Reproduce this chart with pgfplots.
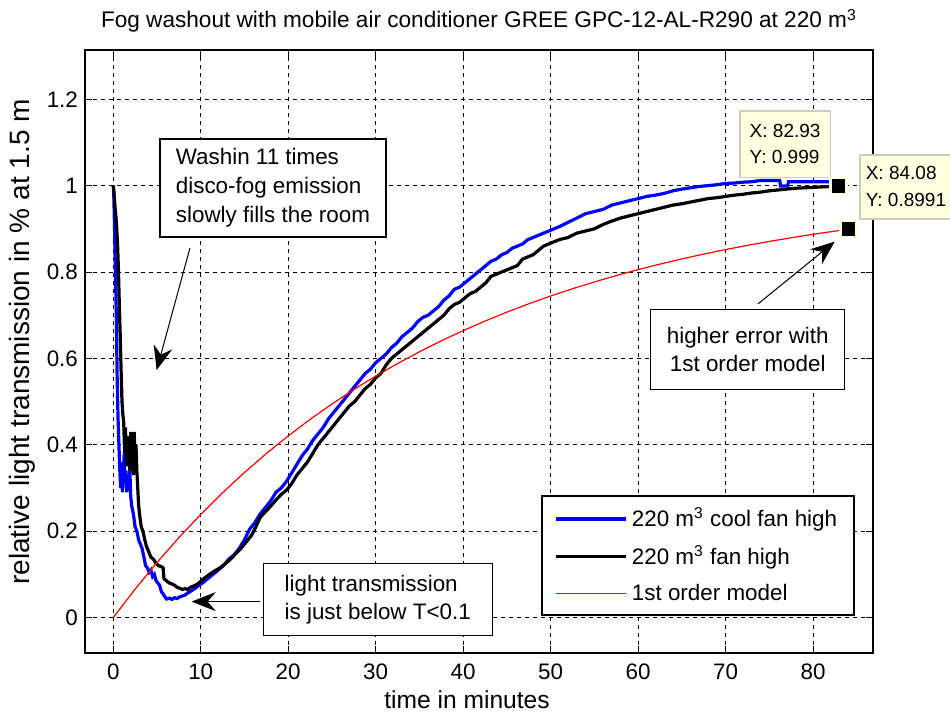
\documentclass[border=0pt]{standalone}
\usepackage{fontspec}
\setmainfont{Liberation Sans}
\usepackage{pgfplots}
\pgfplotsset{compat=1.18}
\usetikzlibrary{arrows.meta}
\definecolor{tipfill}{RGB}{255,255,225}
\definecolor{tipedge}{RGB}{205,205,185}
\begin{document}
\begin{tikzpicture}[font=\fontsize{11.2}{14}\selectfont]
\begin{axis}[
  name=ax,
  scale only axis, width=394pt, height=301.5pt,
  xmin=-3.23, xmax=86.86, ymin=-0.082, ymax=1.314,
  xtick={0,10,20,30,40,50,60,70,80},
  ytick={0,0.2,0.4,0.6,0.8,1,1.2},
  /pgf/number format/assume math mode=true,
  tick label style={font=\fontsize{11.2}{14}\selectfont},
  xticklabel style={anchor=base, yshift=-13pt},
  grid=major,
  major grid style={black, line width=0.5pt, dash pattern=on 2pt off 2pt},
  axis line style={line width=1pt},
  tick align=inside, major tick length=3.5pt,
  tick style={black, line width=0.5pt},
  clip=false,
  title={Fog washout with mobile air conditioner GREE GPC-12-AL-R290 at 220 m\textsuperscript{3}},
  title style={at={(axis description cs:0.5,1)}, anchor=base, yshift=5pt, inner sep=0pt, font=\fontsize{11.3}{14}\selectfont},
  xlabel={time in minutes},
  xlabel style={at={(axis description cs:0.4848,0)}, anchor=base, yshift=-27.5pt, inner sep=0pt, font=\fontsize{12.3}{14}\selectfont},
  ylabel={relative light transmission in \% at 1.5 m},
  ylabel style={at={(axis description cs:-0.0698,0.5158)}, anchor=base, inner sep=0pt, font=\fontsize{14}{16}\selectfont},
  legend style={at={(0.9772,0.0614)}, anchor=south east, draw=black, line width=0.9pt,
     inner xsep=6.5pt, inner ysep=4pt, row sep=4pt, font=\fontsize{11.2}{14}\selectfont},
  legend cell align=left,
  legend image code/.code={\draw[#1] (0pt,0pt) -- (35pt,0pt);},
]
\addplot[blue, line width=1.6pt] coordinates {
(0,1.0) (0.05,0.99) (0.15,0.9) (0.25,0.8) (0.35,0.7) (0.45,0.55) (0.55,0.46)
(0.65,0.40) (0.75,0.34) (0.85,0.30) (0.95,0.36) (1.05,0.29) (1.15,0.33) (1.25,0.38)
(1.35,0.31) (1.45,0.34) (1.55,0.29) (1.65,0.33) (1.75,0.30) (1.9,0.34) (2.0,0.28)
(2.1,0.26) (2.3,0.24) (2.5,0.21) (2.7,0.20) (2.9,0.18) (3.1,0.17) (3.3,0.16)
(3.5,0.14) (3.7,0.12) (3.9,0.115) (4.1,0.105) (4.3,0.11) (4.5,0.095) (4.7,0.10)
(4.9,0.085) (5.1,0.08) (5.3,0.075) (5.5,0.06) (5.7,0.055) (5.9,0.048) (6.1,0.043)
(6.4,0.045) (6.7,0.042) (7.0,0.046) (7.3,0.044) (7.6,0.048) (7.9,0.05) (8.2,0.052)
(8.6,0.058) (9.0,0.063) (9.4,0.068) (9.8,0.075) (10.2,0.08) (10.8,0.09) (11.4,0.10)
(12.0,0.11) (12.6,0.12) (13.2,0.135) (13.8,0.145) (14.4,0.16) (15.0,0.18) (15.6,0.205)
(16.2,0.22) (16.8,0.24) (17.4,0.255) (18.0,0.27) (18.6,0.29) (19.2,0.30) (19.8,0.315)
(20.4,0.335) (21.0,0.355) (21.6,0.375) (22.2,0.39) (22.8,0.41) (23.4,0.425) (24.0,0.44)
(24.6,0.46) (25.2,0.475) (25.8,0.49) (26.4,0.505) (27.0,0.52) (27.6,0.535) (28.2,0.55)
(28.8,0.565) (29.4,0.575) (30.0,0.59) (30.6,0.60) (31.2,0.61) (31.8,0.625) (32.4,0.635)
(33.0,0.65) (33.6,0.66) (34.2,0.67) (34.8,0.685) (35.4,0.695) (36.0,0.70) (36.6,0.71)
(37.2,0.72) (37.8,0.735) (38.4,0.745) (39.0,0.76) (39.6,0.765) (40.2,0.775) (40.8,0.785)
(41.4,0.795) (42.0,0.805) (42.6,0.815) (43.2,0.825) (43.8,0.83) (44.4,0.84) (45.0,0.845)
(45.6,0.855) (46.2,0.86) (46.8,0.865) (47.4,0.875) (48.0,0.88) (48.6,0.885) (49.2,0.89)
(49.8,0.895) (50.4,0.90) (51.0,0.905) (52.0,0.915) (53.0,0.925) (54.0,0.935) (55.0,0.94)
(56.0,0.945) (57.0,0.955) (58.0,0.96) (59.0,0.965) (60.0,0.97) (61.0,0.975) (62.0,0.978)
(63.0,0.982) (64.0,0.988) (65.0,0.992) (66.0,0.995) (67.0,0.998) (68.0,1.0) (69.0,1.002)
(70.0,1.005) (71.0,1.006) (72.0,1.008) (73.0,1.009) (74.0,1.012) (76.2,1.012)
(76.3,0.999) (77.1,0.999) (77.2,1.009) (81.9,1.009) (82.93,0.999)
};
\addlegendentry{220 m\textsuperscript{3} cool fan high}
\addplot[black, line width=1.6pt] coordinates {
(0,1.0) (0.1,0.98) (0.2,0.95) (0.3,0.93) (0.4,0.90) (0.5,0.86) (0.6,0.80) (0.7,0.72)
(0.8,0.65) (0.9,0.57) (1.0,0.50) (1.1,0.47) (1.2,0.45) (1.3,0.38) (1.4,0.44) (1.5,0.35)
(1.6,0.40) (1.7,0.36) (1.8,0.42) (1.9,0.34) (2.0,0.43) (2.1,0.36) (2.2,0.42) (2.3,0.33)
(2.4,0.43) (2.5,0.35) (2.6,0.40) (2.7,0.34) (2.8,0.30) (2.9,0.26) (3.0,0.24) (3.2,0.21)
(3.4,0.20) (3.6,0.18) (3.8,0.165) (4.0,0.155) (4.3,0.14) (4.6,0.135) (4.9,0.125)
(5.2,0.12) (5.5,0.118) (5.7,0.115) (5.8,0.09) (6.1,0.085) (6.4,0.08) (6.7,0.078)
(7.0,0.075) (7.3,0.07) (7.6,0.068) (7.9,0.065) (8.2,0.067) (8.5,0.065) (8.8,0.07)
(9.1,0.072) (9.4,0.075) (9.8,0.08) (10.2,0.088) (10.6,0.094) (11.0,0.10) (11.6,0.108)
(12.2,0.115) (12.8,0.125) (13.4,0.135) (14.0,0.148) (14.6,0.16) (15.2,0.175) (15.8,0.19)
(16.3,0.21) (16.8,0.232) (17.4,0.245) (18.0,0.258) (18.6,0.272) (19.2,0.285) (19.8,0.295)
(20.4,0.31) (21.0,0.33) (21.6,0.345) (22.2,0.36) (22.8,0.38) (23.4,0.40) (24.0,0.415)
(24.6,0.43) (25.2,0.445) (25.8,0.46) (26.4,0.475) (27.0,0.49) (27.6,0.50) (28.2,0.515)
(28.8,0.53) (29.4,0.54) (30.0,0.555) (30.6,0.565) (31.2,0.585) (31.8,0.60) (32.4,0.61)
(33.0,0.62) (33.6,0.63) (34.2,0.64) (34.8,0.65) (35.4,0.66) (36.0,0.67) (36.6,0.68)
(37.2,0.69) (37.8,0.70) (38.4,0.715) (39.0,0.725) (39.6,0.73) (40.2,0.74) (40.8,0.75)
(41.4,0.755) (42.0,0.765) (42.6,0.775) (43.2,0.79) (43.8,0.795) (44.4,0.80) (45.0,0.805)
(45.6,0.81) (46.2,0.815) (46.8,0.83) (47.4,0.835) (48.0,0.84) (48.6,0.85) (49.2,0.86)
(49.8,0.865) (50.4,0.87) (51.0,0.875) (52.0,0.88) (53.0,0.89) (54.0,0.895) (55.0,0.90)
(56.0,0.91) (57.0,0.918) (58.0,0.925) (59.0,0.93) (60.0,0.935) (61.0,0.94) (62.0,0.945)
(63.0,0.95) (64.0,0.955) (65.0,0.958) (66.0,0.962) (67.0,0.966) (68.0,0.97) (69.0,0.972)
(70.0,0.975) (71.0,0.978) (72.0,0.98) (73.0,0.983) (74.0,0.985) (75.0,0.988) (76.0,0.99)
(77.0,0.992) (78.0,0.994) (79.0,0.995) (80.0,0.996) (81.0,0.997) (82.0,0.998) (82.93,0.999)
};
\addlegendentry{220 m\textsuperscript{3} fan high}
\addplot[red, line width=0.6pt] coordinates {
(0,0) (2.5,0.0659) (5,0.1275) (7.5,0.1851) (10,0.2388) (12.5,0.2890) (15,0.3359)
(17.5,0.3797) (20,0.4206) (22.5,0.4588) (25,0.4944) (27.5,0.5278) (30,0.5589)
(32.5,0.5880) (35,0.6152) (37.5,0.6406) (40,0.6643) (42.5,0.6864) (45,0.7071)
(47.5,0.7264) (50,0.7444) (52.5,0.7613) (55,0.7770) (57.5,0.7917) (60,0.8055)
(62.5,0.8183) (65,0.8303) (67.5,0.8415) (70,0.8519) (72.5,0.8617) (75,0.8708)
(77.5,0.8793) (80,0.8873) (82.5,0.8947) (84.08,0.8991)
};
\addlegendentry{1st order model}
\addplot[only marks, mark=square*, mark size=4pt, mark options={fill=black, draw=tipfill, line width=1.2pt}, forget plot]
  coordinates {(82.93,0.999) (84.08,0.8991)};
% annotations
\node[draw=black, fill=white, line width=0.6pt, minimum width=113pt, minimum height=49pt,
  align=left, font=\fontsize{11.2}{14.5}\selectfont] at (axis cs:18.26,0.9947)
  {Washin 11 times\\disco-fog emission\\slowly fills the room};
\draw[line width=0.5pt, -{Stealth[length=12pt,width=9.5pt,inset=4pt]}]
  (axis cs:8.77,0.8556) -- (axis cs:4.96,0.5729);
\node[draw=black, fill=white, line width=0.6pt, minimum width=114.6pt, minimum height=36.2pt,
  align=left, font=\fontsize{11.2}{14}\selectfont] at (axis cs:30.24,0.0421)
  {light transmission\\is just below T<0.1};
\draw[line width=0.5pt, -{Stealth[length=12pt,width=9.5pt,inset=4pt]}]
  (axis cs:16.77,0.037) -- (axis cs:8.96,0.037);
\node[draw=black, fill=white, line width=0.6pt, minimum width=97pt, minimum height=40.3pt,
  align=center, font=\fontsize{11.2}{14}\selectfont] at (axis cs:72.54,0.6204)
  {higher error with\\1st order model};
\draw[line width=0.5pt, -{Stealth[length=12pt,width=9.5pt,inset=4pt]}]
  (axis cs:73.71,0.7262) -- (axis cs:82.48,0.8704);
% data tips
\node[draw=tipedge, fill=tipfill, line width=0.8pt, anchor=north west, minimum width=45.3pt,
  minimum height=33.3pt, align=left, font=\fontsize{9.5}{13.3}\selectfont]
  at (axis cs:71.54,1.1752) {X: 82.93\\Y: 0.999};
\node[draw=tipedge, fill=tipfill, line width=0.8pt, anchor=north west, minimum width=43.5pt,
  minimum height=32pt, inner xsep=3pt, align=left, font=\fontsize{9.5}{13.3}\selectfont]
  at (axis cs:85.26,1.0734) {X: 84.08\\Y: 0.8991};
\end{axis}
\pgfresetboundingbox
\path[use as bounding box] ([xshift=-42.5pt,yshift=-30pt]ax.south west) rectangle ([xshift=38.5pt,yshift=25pt]ax.north east);
\end{tikzpicture}
\end{document}
